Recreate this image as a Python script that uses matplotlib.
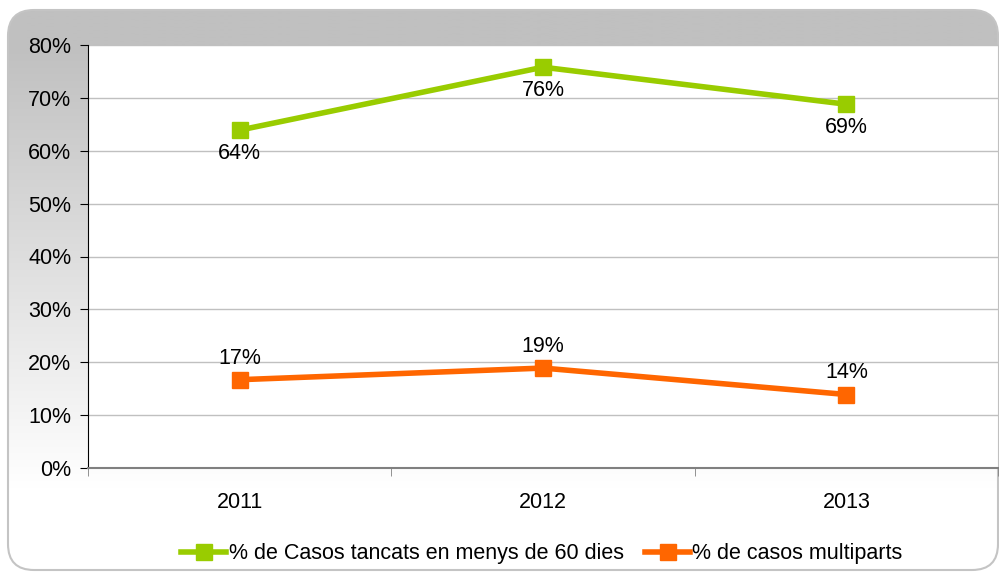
import matplotlib.pyplot as plt
import numpy as np
from matplotlib.colors import LinearSegmentedColormap
from matplotlib.patches import FancyBboxPatch

YEARS = ["2011", "2012", "2013"]
CLOSED_60 = [0.639, 0.758, 0.688]
CLOSED_60_LABELS = ["64%", "76%", "69%"]
MULTIPARTS = [0.167, 0.189, 0.139]
MULTIPARTS_LABELS = ["17%", "19%", "14%"]
Y_TICKS = [0.0, 0.1, 0.2, 0.3, 0.4, 0.5, 0.6, 0.7, 0.8]
Y_TICK_LABELS = ["0%", "10%", "20%", "30%", "40%", "50%", "60%", "70%", "80%"]

GREEN = "#99cc00"
ORANGE = "#ff6600"
FS = 15.5

plt.rcParams["font.family"] = ["Liberation Sans", "DejaVu Sans"]

W, H = 999, 572
fig = plt.figure(figsize=(W / 100, H / 100), dpi=100)

# rounded background panel with a vertical grey -> white gradient
bg = fig.add_axes([0, 0, 1, 1], zorder=0)
bg.set_xlim(0, W)
bg.set_ylim(H, 0)
bg.axis("off")
panel = FancyBboxPatch((8, 10), 990, 560, boxstyle="round,pad=0,rounding_size=26",
                       facecolor="none", edgecolor="#c4c4c4", linewidth=1.5)
bg.add_patch(panel)
rows = np.linspace(10, 570, 400)
grad = np.clip((rows - 45) / (490 - 45), 0, 1).reshape(-1, 1)
cmap = LinearSegmentedColormap.from_list("g", ["#c0c0c0", "#ffffff"])
img = bg.imshow(grad, extent=(8, 998, 570, 10), cmap=cmap, aspect="auto",
                zorder=0, vmin=0, vmax=1)
img.set_clip_path(panel)

ax = fig.add_axes([88 / W, 1 - 468 / H, 910 / W, 423 / H], zorder=1)
ax.set_facecolor("white")
x = np.arange(len(YEARS))

ax.plot(x, CLOSED_60, color=GREEN, linewidth=4, marker="s", markersize=11,
        label="% de Casos tancats en menys de 60 dies", zorder=3, clip_on=False)
ax.plot(x, MULTIPARTS, color=ORANGE, linewidth=4, marker="s", markersize=11,
        label="% de casos multiparts", zorder=3, clip_on=False)

for xi, v, t in zip(x, CLOSED_60, CLOSED_60_LABELS):
    ax.annotate(t, (xi, v), xytext=(0, -9), textcoords="offset points",
                ha="center", va="top", fontsize=FS, zorder=4)
for xi, v, t in zip(x, MULTIPARTS, MULTIPARTS_LABELS):
    ax.annotate(t, (xi, v), xytext=(0, 8), textcoords="offset points",
                ha="center", va="bottom", fontsize=FS, zorder=4)

ax.set_xlim(-0.5, 2.5)
ax.set_ylim(0, 0.8)
ax.set_yticks(Y_TICKS)
ax.set_yticklabels(Y_TICK_LABELS, fontsize=FS)
ax.set_xticks(x)
ax.set_xticklabels(YEARS, fontsize=FS)
ax.set_xticks([-0.5, 0.5, 1.5, 2.5], minor=True)
ax.tick_params(axis="x", which="major", length=0, pad=17)
ax.tick_params(axis="x", which="minor", length=6, direction="out", color="#808080")
ax.tick_params(axis="y", length=6, direction="out", pad=6)
ax.yaxis.grid(True, color="#c0c0c0", linewidth=1)
ax.set_axisbelow(True)

ax.spines["top"].set_visible(False)
ax.spines["right"].set_color("#c0c0c0")
ax.spines["left"].set_color("black")
ax.spines["bottom"].set_color("#808080")
ax.spines["bottom"].set_linewidth(1.5)

fig.legend(loc="center", bbox_to_anchor=(542 / W, 1 - 554 / H), ncol=2, frameon=False,
           fontsize=FS, handlelength=2.1, handletextpad=0.1, columnspacing=1.0)

fig.savefig("out.png", dpi=100)
